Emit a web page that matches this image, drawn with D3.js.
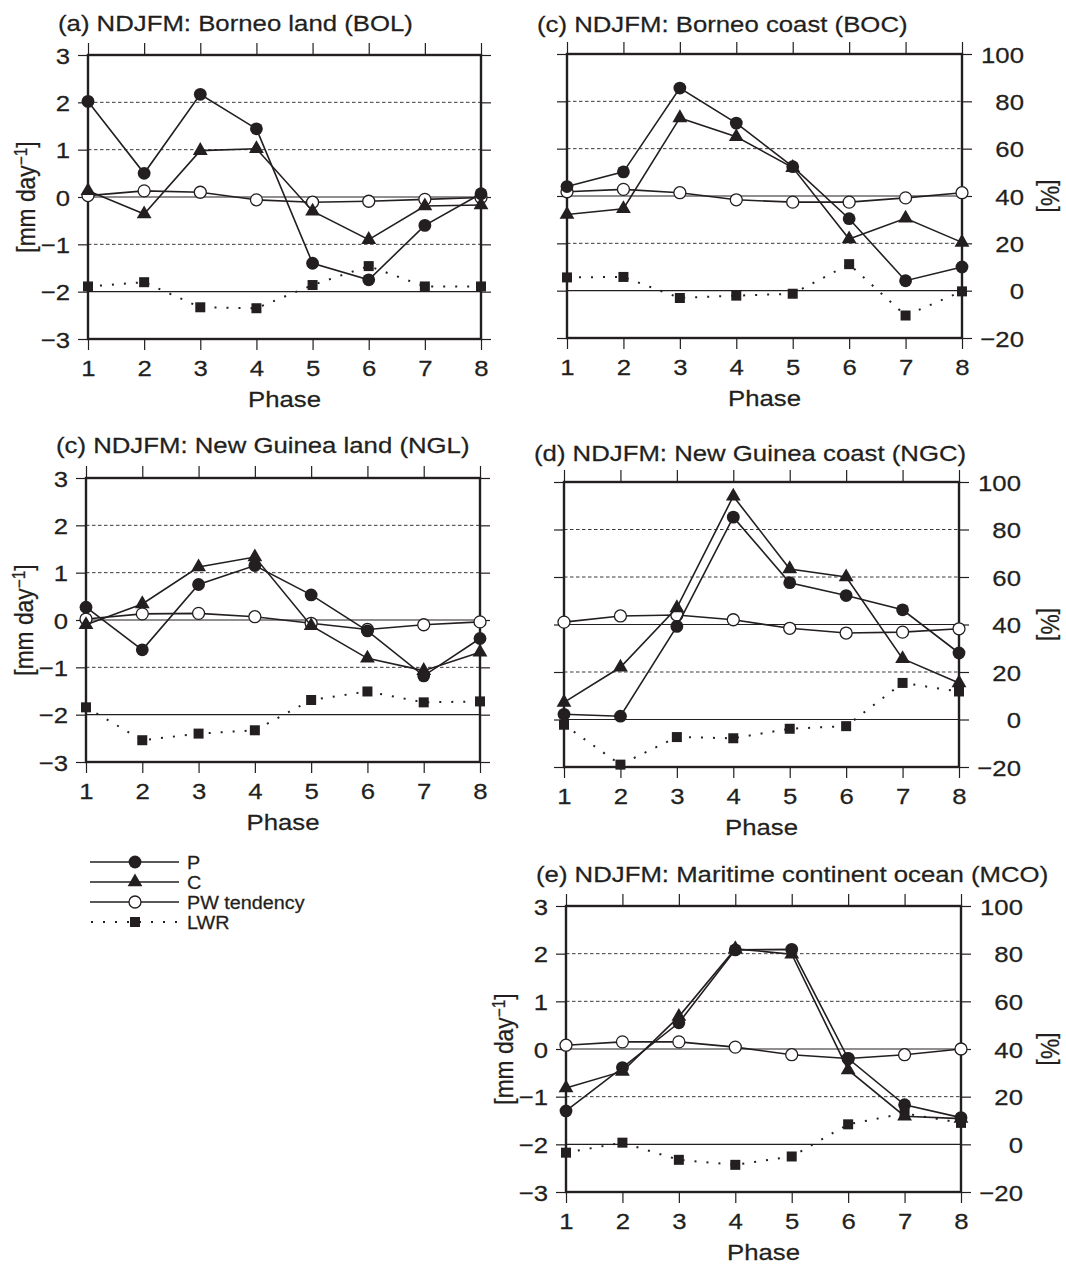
<!DOCTYPE html>
<html>
<head>
<meta charset="utf-8">
<script src="https://cdn.jsdelivr.net/npm/d3@7"></script>
<style>
  body { margin: 0; background: #fff; }
  svg text { font-family: "Liberation Sans", Arial, Helvetica, sans-serif; fill: #231f20; stroke: #231f20; stroke-width: 0.25px; }
</style>
</head>
<body>
<svg id="fig" width="1066" height="1266"></svg>
<script>
// ---- shared axes content ----
const phases = [1, 2, 3, 4, 5, 6, 7, 8];
const mmTicks = [-3, -2, -1, 0, 1, 2, 3];
const mmTickLabels = ["\u22123", "\u22122", "\u22121", "0", "1", "2", "3"];
const pctTicks = [-20, 0, 20, 40, 60, 80, 100];
const pctTickLabels = ["\u221220", "0", "20", "40", "60", "80", "100"];
const seriesNames = ["P", "C", "PW tendency", "LWR"];

// ---- panel titles ----
const titles = [
  "(a) NDJFM: Borneo land (BOL)",
  "(c) NDJFM: Borneo coast (BOC)",
  "(c) NDJFM: New Guinea land (NGL)",
  "(d) NDJFM: New Guinea coast (NGC)",
  "(e) NDJFM: Maritime continent ocean (MCO)"
];

// ---- composite anomalies by MJO phase: P, C, PW tendency in mm/day, LWR in % ----
const bolP   = [2.02, 0.50, 2.17, 1.44, -1.40, -1.75, -0.60, 0.07];
const bolC   = [0.13, -0.36, 0.98, 1.02, -0.30, -0.90, -0.19, -0.17];
const bolPW  = [0.03, 0.13, 0.10, -0.06, -0.11, -0.09, -0.05, -0.01];
const bolLWR = [2.2, 4.0, -6.6, -7.0, 2.8, 10.8, 2.2, 2.2];

const bocP   = [0.20, 0.51, 2.28, 1.54, 0.62, -0.48, -1.79, -1.50];
const bocC   = [-0.39, -0.27, 1.65, 1.25, 0.60, -0.91, -0.47, -0.98];
const bocPW  = [0.09, 0.14, 0.07, -0.08, -0.13, -0.13, -0.04, 0.07];
const bocLWR = [5.6, 5.8, -3.1, -2.1, -1.3, 11.2, -10.5, -0.3];

const nglP   = [0.27, -0.63, 0.75, 1.15, 0.53, -0.23, -1.18, -0.39];
const nglC   = [-0.10, 0.34, 1.12, 1.33, -0.12, -0.81, -1.07, -0.68];
const nglPW  = [0.02, 0.13, 0.14, 0.07, -0.07, -0.20, -0.10, -0.04];
const nglLWR = [3.1, -10.8, -8.0, -6.6, 6.2, 9.8, 5.2, 5.6];

const ngcP   = [-1.89, -1.93, -0.04, 2.26, 0.88, 0.61, 0.31, -0.60];
const ngcC   = [-1.64, -0.90, 0.35, 2.70, 1.17, 1.00, -0.72, -1.23];
const ngcPW  = [0.05, 0.18, 0.20, 0.10, -0.08, -0.18, -0.16, -0.09];
const ngcLWR = [-2.2, -19.0, -7.4, -7.9, -3.9, -2.8, 15.4, 11.8];

const mcoP   = [-1.30, -0.39, 0.55, 2.08, 2.09, -0.20, -1.17, -1.44];
const mcoC   = [-0.82, -0.47, 0.68, 2.10, 1.99, -0.44, -1.41, -1.46];
const mcoPW  = [0.08, 0.15, 0.15, 0.04, -0.12, -0.20, -0.12, 0.00];
const mcoLWR = [-3.5, 0.7, -6.5, -8.6, -5.1, 8.4, 13.0, 9.0];

// ---- layout ----
const SX = 1.13;            // horizontal glyph stretch of the lettering
const FS = 22.8;            // main font size
const INK = "#231f20";

const layout = [
  { l: 88,  r: 481, t: 55,  b: 339,  titleY: 31,  leftLab: true,  rightLab: false },
  { l: 567, r: 962, t: 54,  b: 338,  titleY: 32,  leftLab: false, rightLab: true },
  { l: 86,  r: 480, t: 478, b: 762,  titleY: 453, leftLab: true,  rightLab: false },
  { l: 564, r: 959, t: 482, b: 767,  titleY: 461, leftLab: false, rightLab: true },
  { l: 566, r: 961, t: 906, b: 1192, titleY: 882, leftLab: true,  rightLab: true }
];

const panelData = [
  [bolP, bolC, bolPW, bolLWR],
  [bocP, bocC, bocPW, bocLWR],
  [nglP, nglC, nglPW, nglLWR],
  [ngcP, ngcC, ngcPW, ngcLWR],
  [mcoP, mcoC, mcoPW, mcoLWR]
];

const svg = d3.select("#fig");

// Stretch a text element horizontally around its anchor point.
function stretch(sel) {
  sel.each(function () {
    const t = d3.select(this);
    const x = +t.attr("x") || 0;
    const y = +t.attr("y") || 0;
    t.attr("x", 0).attr("y", 0).attr("transform", `translate(${x},${y}) scale(${SX},1)`);
  });
}

function addText(g, x, y, str, opts = {}) {
  const t = g.append("text")
    .attr("transform", `translate(${x},${y}) scale(${SX},1)` + (opts.rotate ? ` rotate(${opts.rotate})` : ""))
    .attr("text-anchor", opts.anchor || "start")
    .attr("font-size", opts.size || FS);
  if (opts.dy) t.attr("dy", opts.dy);
  t.text(str);
  return t;
}

// Marker drawers
const triPath = d3.symbol(d3.symbolTriangle, 95)();
function drawMarker(g, kind, cx, cy) {
  if (kind === 0) {
    g.append("circle").attr("cx", cx).attr("cy", cy).attr("r", 6.4).attr("fill", INK);
  } else if (kind === 1) {
    g.append("path").attr("d", triPath).attr("transform", `translate(${cx},${cy})`).attr("fill", INK);
  } else if (kind === 2) {
    g.append("circle").attr("cx", cx).attr("cy", cy).attr("r", 6)
      .attr("fill", "#fff").attr("stroke", INK).attr("stroke-width", 1.3);
  } else {
    g.append("rect").attr("x", cx - 5).attr("y", cy - 5).attr("width", 10).attr("height", 10).attr("fill", INK);
  }
}

layout.forEach((L, pi) => {
  const g = svg.append("g");
  const x = d3.scaleLinear().domain([1, 8]).range([L.l, L.r]);
  const y = d3.scaleLinear().domain([-3, 3]).range([L.b, L.t]);
  const yp = d3.scaleLinear().domain([-20, 100]).range([L.b, L.t]);

  // grid lines: dashed at +-1, 2; solid at 0 mm/day and 0 %
  [2, 1, -1].forEach(v => {
    g.append("line").attr("x1", L.l).attr("x2", L.r).attr("y1", y(v)).attr("y2", y(v))
      .attr("stroke", "#3a3a3a").attr("stroke-width", 1).attr("stroke-dasharray", "3.5,2.5");
  });
  g.append("line").attr("x1", L.l).attr("x2", L.r).attr("y1", y(0)).attr("y2", y(0))
    .attr("stroke", INK).attr("stroke-width", 1.2);
  g.append("line").attr("x1", L.l).attr("x2", L.r).attr("y1", yp(0)).attr("y2", yp(0))
    .attr("stroke", INK).attr("stroke-width", 1.2);

  // axes
  const axL = d3.axisLeft(y).tickValues(mmTicks).tickSize(10).tickPadding(8)
    .tickFormat((d, i) => L.leftLab ? mmTickLabels[i] : "");
  const axR = d3.axisRight(yp).tickValues(pctTicks).tickSize(10).tickPadding(8)
    .tickFormat((d, i) => L.rightLab ? pctTickLabels[i] : "");
  const axT = d3.axisTop(x).tickValues(phases).tickSize(12).tickFormat("");
  const axB = d3.axisBottom(x).tickValues(phases).tickSize(11).tickFormat(d => String(d));

  const gL = g.append("g").attr("transform", `translate(${L.l},0)`).call(axL);
  const gR = g.append("g").attr("transform", `translate(${L.r},0)`).call(axR);
  const gT = g.append("g").attr("transform", `translate(0,${L.t})`).call(axT);
  const gB = g.append("g").attr("transform", `translate(0,${L.b})`).call(axB);

  [gL, gR, gT, gB].forEach(a => {
    a.select(".domain").remove();
    a.selectAll(".tick line").attr("stroke", INK).attr("stroke-width", 1.2);
    a.selectAll("text").attr("font-size", FS).attr("fill", INK)
      .style("font-family", "\"Liberation Sans\", Arial, Helvetica, sans-serif");
  });
  gL.selectAll("text").attr("dy", "0.36em");
  gR.selectAll("text").attr("x", 62).attr("text-anchor", "end").attr("dy", "0.36em");
  gB.selectAll("text").attr("y", 37).attr("dy", 0);
  [gL, gR, gB].forEach(a => stretch(a.selectAll("text")));

  // frame
  g.append("rect").attr("x", L.l).attr("y", L.t).attr("width", L.r - L.l).attr("height", L.b - L.t)
    .attr("fill", "none").attr("stroke", INK).attr("stroke-width", 2.4);

  // series: LWR (% axis) first, then PW tendency, C and P
  const data = panelData[pi];
  const order = [3, 2, 1, 0];
  order.forEach(k => {
    const vals = data[k];
    const ys = k === 3 ? yp : y;
    const line = d3.line().x((d, i) => x(phases[i])).y(d => ys(d));
    const path = g.append("path").datum(vals).attr("d", line)
      .attr("fill", "none").attr("stroke", INK);
    if (k === 3) {
      path.attr("stroke-width", 2).attr("stroke-dasharray", "2,10").attr("stroke-linecap", "butt");
    } else {
      path.attr("stroke-width", 1.6);
    }
    vals.forEach((v, i) => drawMarker(g, k, x(phases[i]), ys(v)));
  });

  // titles and axis names
  addText(g, L.l - 30, L.titleY, titles[pi]);
  addText(g, (L.l + L.r) / 2, L.b + 68, "Phase", { anchor: "middle" });
  if (L.leftLab) {
    const t = g.append("text")
      .attr("transform", `translate(${L.l - 62},${(L.t + L.b) / 2}) scale(${SX},1) rotate(-90)`)
      .attr("text-anchor", "middle").attr("font-size", FS).attr("dy", "0.36em");
    t.append("tspan").text("[mm day");
    t.append("tspan").attr("dy", "-0.45em").attr("font-size", "0.68em").text("\u22121");
    t.append("tspan").attr("dy", "0.306em").text("]");
  }
  if (L.rightLab) {
    g.append("text")
      .attr("transform", `translate(1050,${(L.t + L.b) / 2}) scale(${SX},1) rotate(90)`)
      .attr("text-anchor", "middle").attr("font-size", FS).attr("dy", "0.36em")
      .text("[%]");
  }
});

// ---- legend ----
const lg = svg.append("g");
const legendRows = [862, 882, 902, 922];
seriesNames.forEach((name, k) => {
  const yy = legendRows[k];
  const ln = lg.append("line").attr("x1", 90).attr("x2", 179).attr("y1", yy).attr("y2", yy)
    .attr("stroke", INK);
  if (k === 3) ln.attr("stroke-width", 2).attr("stroke-dasharray", "2,10").attr("x1", 91);
  else ln.attr("stroke-width", 1.6);
  drawMarker(lg, k, 135, yy);
  addText(lg, 187, yy + 6.5, name, { size: 17.5 });
});
</script>
</body>
</html>
